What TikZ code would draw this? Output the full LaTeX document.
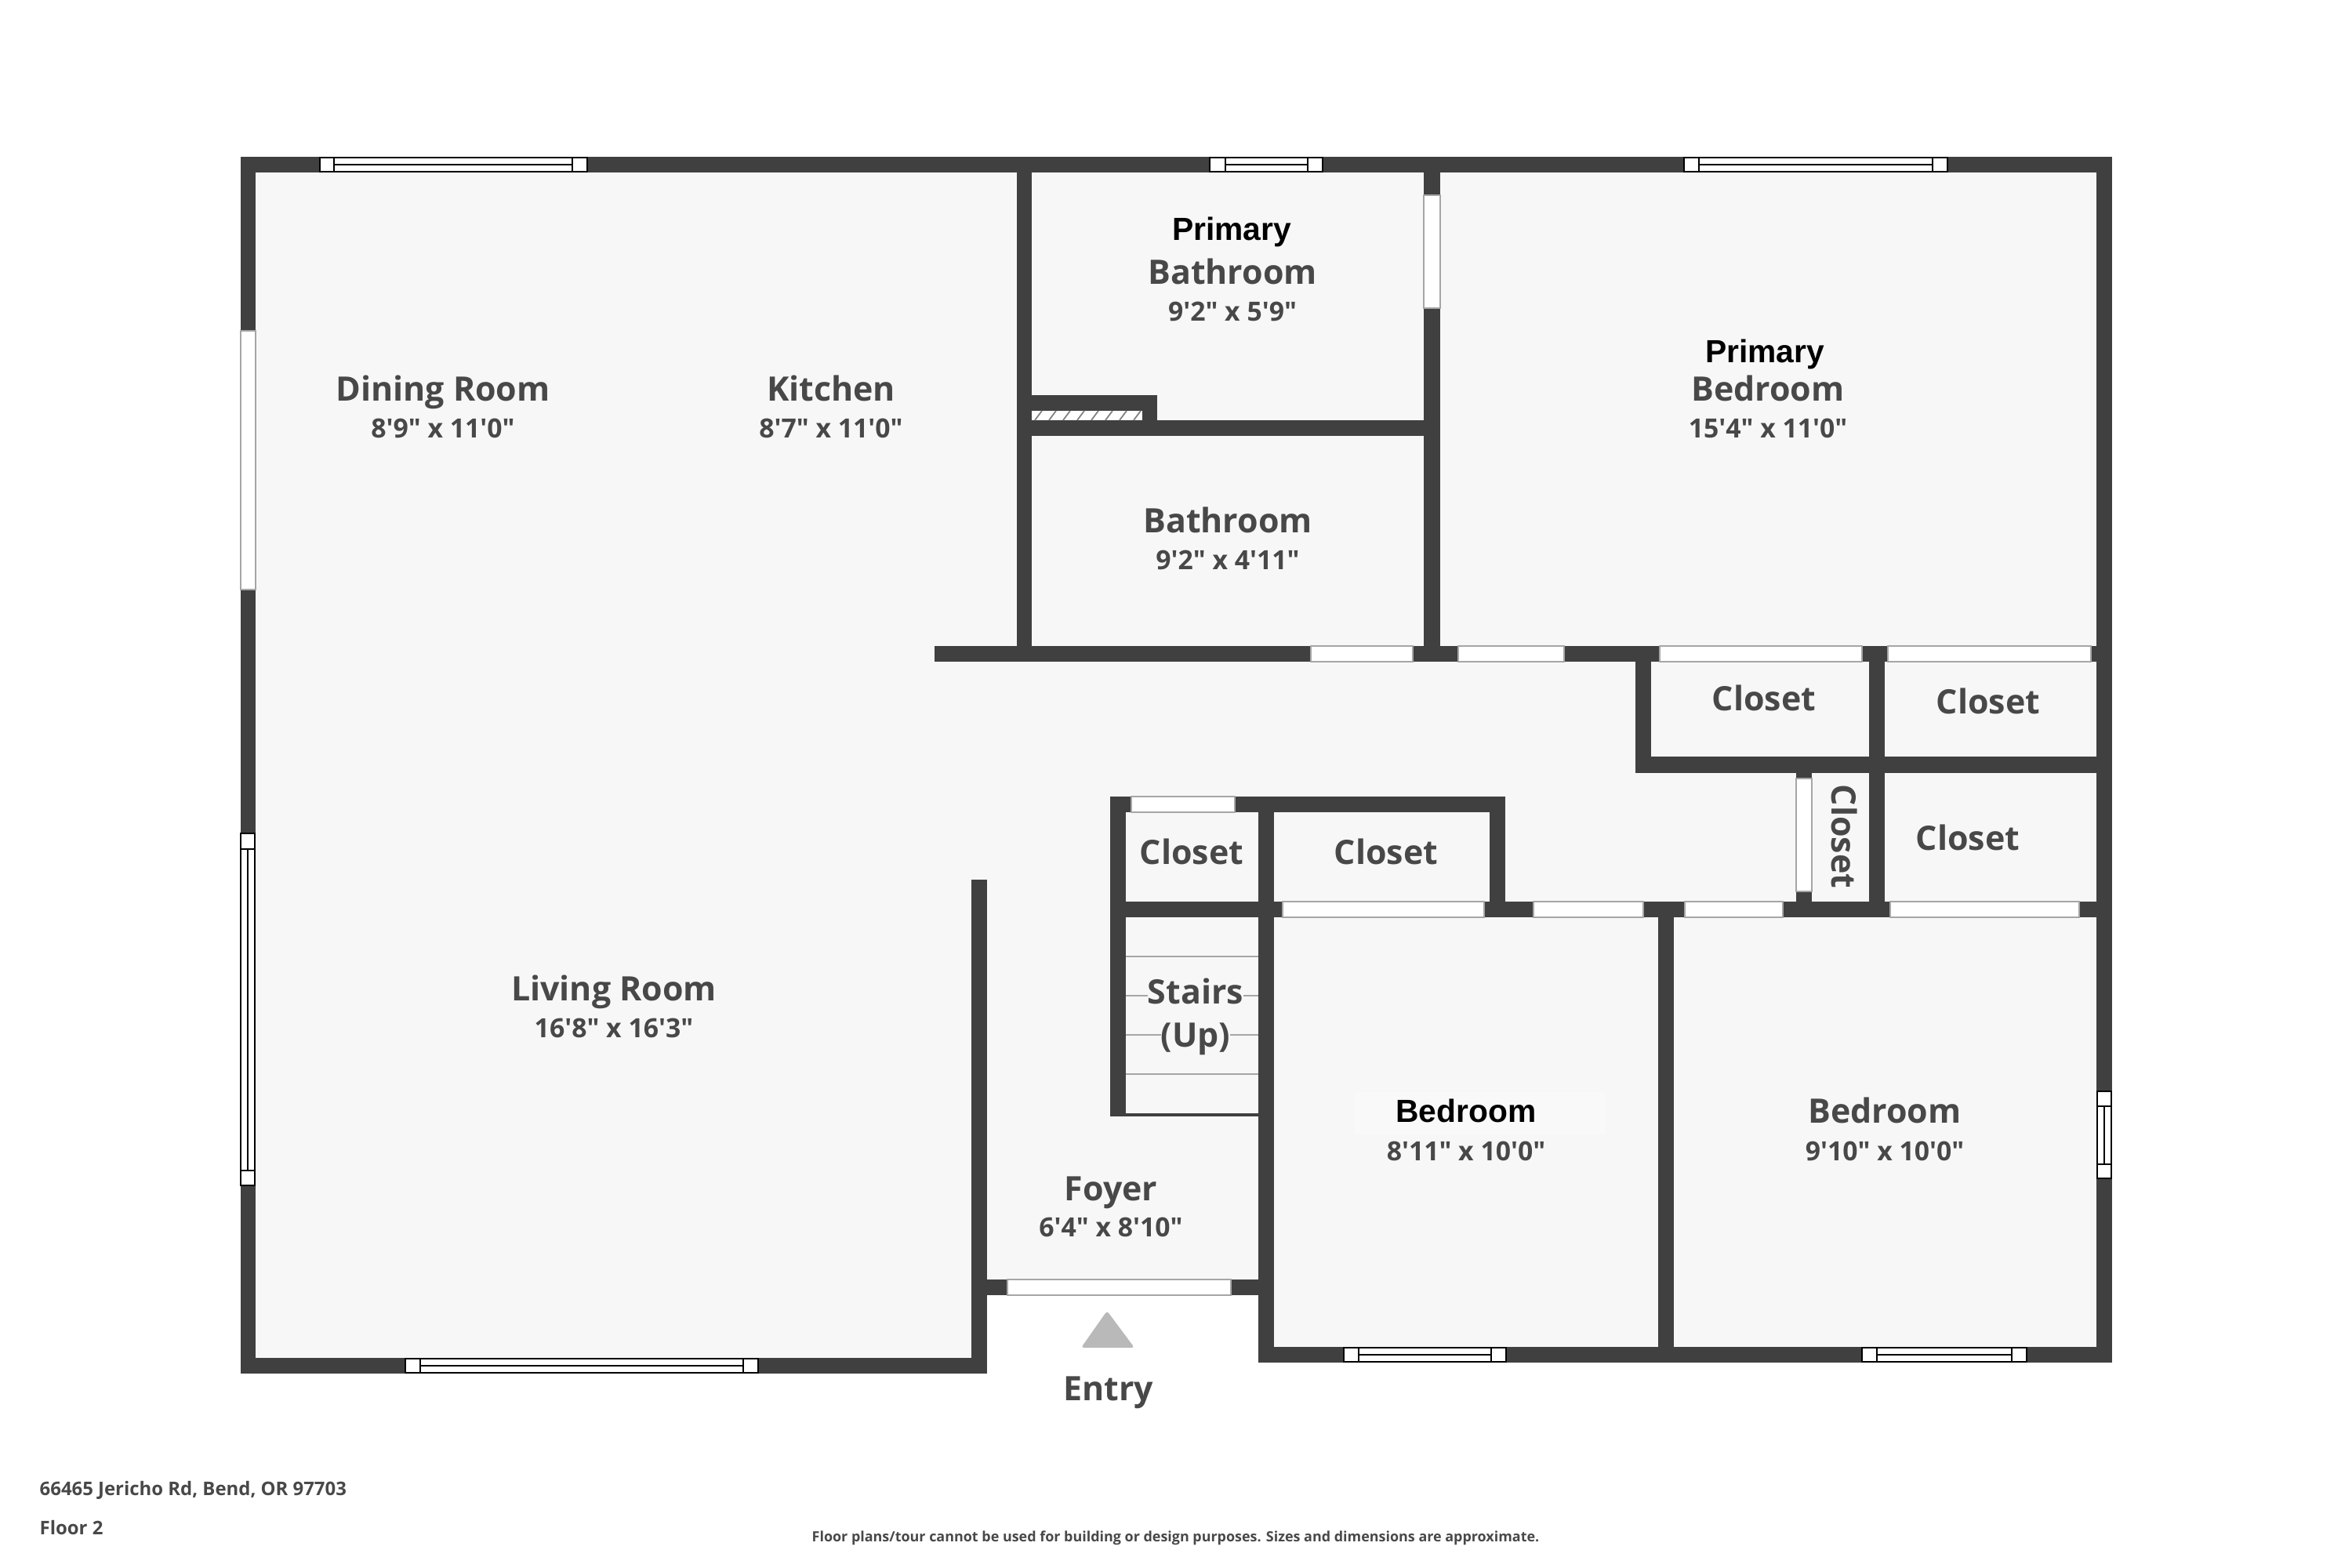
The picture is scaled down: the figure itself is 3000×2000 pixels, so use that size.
\documentclass[tikz,border=0pt]{standalone}
\usepackage{fontspec}
\newfontfamily\planfont{Open Sans}
\newfontfamily\arialfont{Liberation Sans}
\definecolor{wallgray}{HTML}{404040}
\definecolor{floorgray}{HTML}{F7F7F7}
\definecolor{labelgray}{HTML}{484848}
\tikzset{
wall/.style={fill=wallgray}, % every wall is a filled rectangle
opening/.style={fill=white, draw=gray!70, line width=0.4pt}, % plain openings
glazing/.style={fill=white, draw=black, line width=0.5pt}, % framed windows
step line/.style={draw=gray!70, line width=0.8pt},
roomname/.style={anchor=base, inner sep=0pt, text=labelgray, font=\fontsize{12.2}{14}\selectfont\planfont\bfseries},
roomdim/.style={anchor=base, inner sep=0pt, text=labelgray, font=\fontsize{9.6}{12}\selectfont\planfont\bfseries},
blackname/.style={anchor=base, inner sep=0pt, text=black, font=\fontsize{11.6}{14}\selectfont\arialfont\bfseries},
footnote/.style={anchor=base west, inner sep=0pt, text=labelgray, font=\fontsize{6.8}{8}\selectfont\planfont\bfseries},
}
\begin{document}
\begin{tikzpicture}[x=0.01cm,y=-0.01cm]
\useasboundingbox (0,0) rectangle (3000,2000);
% floor
\fill[floorgray] (316,210) -- (2684,210) -- (2684,1728) -- (1615,1728) -- (1615,1642)
  -- (1249,1642) -- (1249,1742) -- (316,1742) -- cycle;
\fill[white!25!floorgray] (1728,1393) rectangle (2047,1447);
% stairs
\foreach \y in {1220,1270,1320,1370}
  \draw[step line] (1436,\y) -- (1605,\y);
% walls
\foreach \xa/\ya/\xb/\yb in {
  307/200/2694/220, 307/200/326/1752, 307/1732/1259/1752, 1239/1122/1259/1752,
  2674/200/2694/1738, 1605/1718/2694/1738, 1605/1016/1625/1738, 1239/1632/1625/1652,
  1297/200/1316/844, 1192/824/2694/844, 1816/200/1837/844, 1316/536/1837/556,
  1316/504/1476/556, 2086/824/2106/986, 2086/965/2694/986, 2384/824/2404/1170,
  2291/965/2311/1170, 1416/1150/2694/1170, 1416/1016/1920/1036, 1416/1016/1436/1424,
  1416/1420/1625/1424, 1900/1016/1920/1170, 2115/1150/2135/1738}
  \fill[wall] (\xa,\ya) rectangle (\xb,\yb);
% plain openings
\foreach \xa/\ya/\xb/\yb in {
  307/422/326/752, 1816/249/1837/393, 1672/824/1802/844, 1860/824/1995/844,
  2117/824/2375/844, 2408/824/2667/844, 1443/1016/1575/1036, 1636/1150/1893/1170,
  1956/1150/2096/1170, 2149/1150/2274/1170, 2411/1150/2652/1170, 2291/993/2311/1137,
  1285/1632/1570/1652}
  \draw[opening] (\xa,\ya) rectangle (\xb,\yb);
% hatched sliver in the bathroom wall
\fill[white] (1316,524) rectangle (1457,536);
\foreach \x in {1320,1338,...,1448}
  \draw[gray, line width=0.5pt] (\x,536) -- (\x+9,524);
% framed windows, horizontal
\foreach \xa/\xc/\xd/\xb/\ya in {
  408/426/730/749/201, 1543/1563/1668/1687/201, 2148/2167/2465/2484/201,
  517/536/948/967/1733, 1714/1733/1902/1921/1719, 2375/2394/2566/2585/1719}{
  \draw[glazing] (\xa,\ya) rectangle (\xb,\ya+18);
  \draw[glazing] (\xc,\ya) rectangle (\xd,\ya+18) (\xc,\ya+9) -- (\xd,\ya+9);
}
% framed windows, vertical
\foreach \ya/\yc/\yd/\yb/\xa in {1063/1083/1493/1512/307, 1392/1411/1485/1503/2675}{
  \draw[glazing] (\xa,\ya) rectangle (\xa+18,\yb);
  \draw[glazing] (\xa,\yc) rectangle (\xa+18,\yd) (\xa+9,\yc) -- (\xa+9,\yd);
}
% entry mark
\fill[gray!55, rounded corners=1pt] (1412,1672) -- (1447,1719) -- (1379,1719) -- cycle;
% labels
\node[roomname] (dining) at (565,511) {Dining Room};
\node[roomdim] (diningdim) at ([yshift=-0.47cm]dining.base) {8'9" x 11'0"};
\node[roomname] (kitchen) at (1060,511) {Kitchen};
\node[roomdim] (kitchendim) at ([yshift=-0.47cm]kitchen.base) {8'7" x 11'0"};
\node[blackname] (primbathtop) at (1571,306) {Primary};
\node[roomname] (primbath) at (1572,362) {Bathroom};
\node[roomdim] (primbathdim) at ([yshift=-0.47cm]primbath.base) {9'2" x 5'9"};
\node[roomname] (bath) at (1566,679) {Bathroom};
\node[roomdim] (bathdim) at ([yshift=-0.47cm]bath.base) {9'2" x 4'11"};
\node[blackname] (primbedtop) at (2251,462) {Primary};
\node[roomname] (primbed) at (2255,511) {Bedroom};
\node[roomdim] (primbeddim) at ([yshift=-0.47cm]primbed.base) {15'4" x 11'0"};
\node[roomname] (closeta) at (2250,906) {Closet};
\node[roomname] (closetb) at (2536,910) {Closet};
\node[roomname] (closetc) at (2510,1084) {Closet};
\node[roomname, rotate=-90, anchor=center] (closetd) at (2353,1067) {Closet};
\node[roomname] (closete) at (1520,1102) {Closet};
\node[roomname] (closetf) at (1768,1102) {Closet};
\node[roomname, fill=floorgray] (stairs) at (1525,1280) {Stairs};
\node[roomname, fill=floorgray] (stairsup) at (1525,1335) {(Up)};
\node[roomname] (living) at (783,1276) {Living Room};
\node[roomdim] (livingdim) at ([yshift=-0.47cm]living.base) {16'8" x 16'3"};
\node[roomname] (foyer) at (1417,1531) {Foyer};
\node[roomdim] (foyerdim) at ([yshift=-0.46cm]foyer.base) {6'4" x 8'10"};
\node[blackname] (beda) at (1870,1431) {Bedroom};
\node[roomdim] (bedadim) at ([yshift=-0.49cm]beda.base) {8'11" x 10'0"};
\node[roomname] (bedb) at (2404,1432) {Bedroom};
\node[roomdim] (bedbdim) at ([yshift=-0.48cm]bedb.base) {9'10" x 10'0"};
\node[roomname] (entry) at (1414,1786) {Entry};
\node[footnote] (address) at (50,1907) {66465 Jericho Rd, Bend, OR 97703};
\node[footnote] (floor) at (50,1957) {Floor 2};
\node[footnote, font=\fontsize{5.1}{7}\selectfont\planfont\bfseries] (disclaimer) at (1035,1966) {Floor plans/tour cannot be used for building or design purposes. Sizes and dimensions are approximate.};
\end{tikzpicture}
\end{document}
